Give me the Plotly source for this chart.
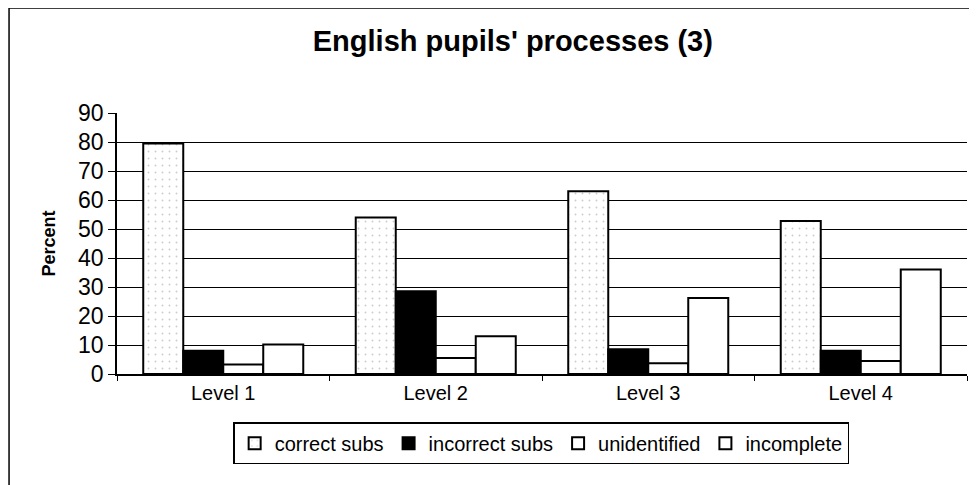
import plotly.graph_objects as go

levels = ["Level 1", "Level 2", "Level 3", "Level 4"]
correct_subs = [79.5, 54, 63, 52.8]
incorrect_subs = [8, 28.5, 8.5, 8]
unidentified = [3.3, 5.5, 3.7, 4.5]
incomplete = [10.2, 13, 26.2, 36]

FONT = "Liberation Sans, Arial, sans-serif"
OUTLINE = dict(color="black", width=2)

fig = go.Figure()
fig.add_trace(go.Bar(
    name="correct subs", x=levels, y=correct_subs,
    marker=dict(color="white", line=OUTLINE,
                pattern=dict(shape=".", size=7, solidity=0.06, fgcolor="#999999",
                             bgcolor="white")),
))
fig.add_trace(go.Bar(
    name="incorrect subs", x=levels, y=incorrect_subs,
    marker=dict(color="black", line=OUTLINE),
))
fig.add_trace(go.Bar(
    name="unidentified", x=levels, y=unidentified,
    marker=dict(color="white", line=OUTLINE),
))
fig.add_trace(go.Bar(
    name="incomplete", x=levels, y=incomplete,
    marker=dict(color="white", line=OUTLINE),
))

# page body adds an 8px margin, so the figure is sized and placed to allow for it
fig.update_layout(
    width=969, height=477,
    barmode="group", bargap=0.247, bargroupgap=0,
    title=dict(text="<b>English pupils' processes (3)</b>", x=0.521, y=0.931,
               xanchor="center", yanchor="middle",
               font=dict(family=FONT, size=29, color="black")),
    font=dict(family=FONT, size=19, color="black"),
    plot_bgcolor="white", paper_bgcolor="white",
    margin=dict(l=109, r=10, t=105, b=111, autoexpand=False),
    showlegend=True,
    legend=dict(orientation="h", x=0.499, xanchor="center", y=-0.185, yanchor="top",
                bordercolor="black", borderwidth=1.5, font=dict(size=20),
                itemwidth=30, tracegroupgap=0),
    shapes=[
        dict(type="line", xref="paper", yref="paper", x0=-0.127, x1=-0.127,
             y0=-0.45, y1=1.402, line=dict(color="black", width=1.5)),
        dict(type="line", xref="paper", yref="paper", x0=-0.127, x1=1.005,
             y0=1.402, y1=1.402, line=dict(color="black", width=1.5)),
    ],
)
fig.update_xaxes(showline=True, linecolor="black", linewidth=1.5, ticks="outside",
                 tickson="boundaries", ticklen=5, tickcolor="black",
                 tickfont=dict(size=20), automargin=False)
fig.update_yaxes(range=[0, 90], dtick=10, showgrid=True, gridcolor="black", gridwidth=1.2,
                 showline=True, linecolor="black", linewidth=1.5, ticks="outside",
                 ticklen=7, tickcolor="black", tickfont=dict(size=23),
                 title=dict(text="<b>Percent</b>", font=dict(size=18), standoff=18),
                 zeroline=False, automargin=False)

fig.write_html("out.html")
